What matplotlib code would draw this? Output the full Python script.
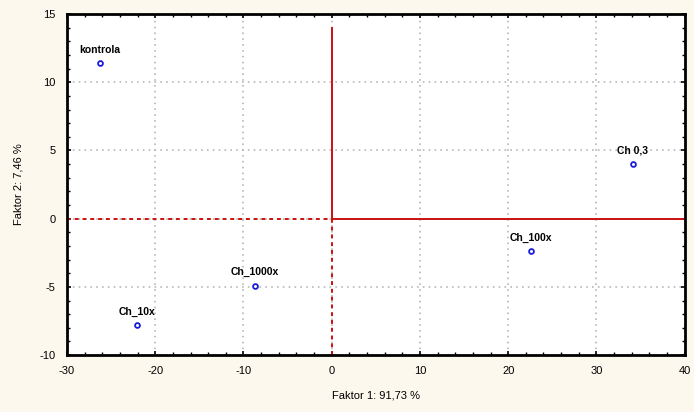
import matplotlib.pyplot as plt
from matplotlib.ticker import MultipleLocator

# PCA score plot
labels = ["kontrola", "Ch 0,3", "Ch_100x", "Ch_1000x", "Ch_10x"]
faktor1 = [-26.3, 34.1, 22.6, -8.7, -22.1]
faktor2 = [11.4, 4.0, -2.4, -4.9, -7.8]

plt.rcParams["font.family"] = ["Liberation Sans", "DejaVu Sans"]
plt.rcParams["axes.unicode_minus"] = False

fig = plt.figure(figsize=(6.94, 4.12), dpi=100, facecolor="#fdf8ee")
ax = fig.add_axes([0.0965, 0.138, 0.890, 0.828])
ax.set_facecolor("white")

ax.set_xlim(-30, 40)
ax.set_ylim(-10, 15)
ax.xaxis.set_major_locator(MultipleLocator(10))
ax.yaxis.set_major_locator(MultipleLocator(5))
ax.xaxis.set_minor_locator(MultipleLocator(2))
ax.yaxis.set_minor_locator(MultipleLocator(1))
ax.grid(True, which="major", color="#b8b8b8", linestyle=(0, (1, 2.5)), linewidth=1.2)

# osy nula
red = "#cc1010"
ax.plot([0, 0], [-10, 0], color=red, linestyle=(0, (2, 2)), linewidth=1.4, zorder=2)
ax.plot([0, 0], [0, 14], color=red, linewidth=1.4, zorder=2)
ax.plot([-30, 0], [0, 0], color=red, linestyle=(0, (2, 2)), linewidth=1.4, zorder=2)
ax.plot([0, 40], [0, 0], color=red, linewidth=1.4, zorder=2)

ax.scatter(faktor1, faktor2, s=12, facecolors="white", edgecolors="#1a1adc", linewidths=1.3, zorder=3)
for lab, x, y in zip(labels, faktor1, faktor2):
    ax.annotate(lab, (x, y), xytext=(0, 6), textcoords="offset points",
                ha="center", va="bottom", fontsize=7.5, fontweight="bold")

for s in ax.spines.values():
    s.set_linewidth(2)
ax.tick_params(which="both", direction="in", top=True, right=True, labelsize=8)
ax.tick_params(which="major", length=3, width=1.2, pad=8)
ax.tick_params(which="minor", length=2, width=1)

ax.set_xlabel("Faktor 1: 91,73 %", fontsize=8, labelpad=10)
ax.set_ylabel("Faktor 2: 7,46 %", fontsize=8, labelpad=12)

fig.savefig("out.png", dpi=100, facecolor=fig.get_facecolor())
